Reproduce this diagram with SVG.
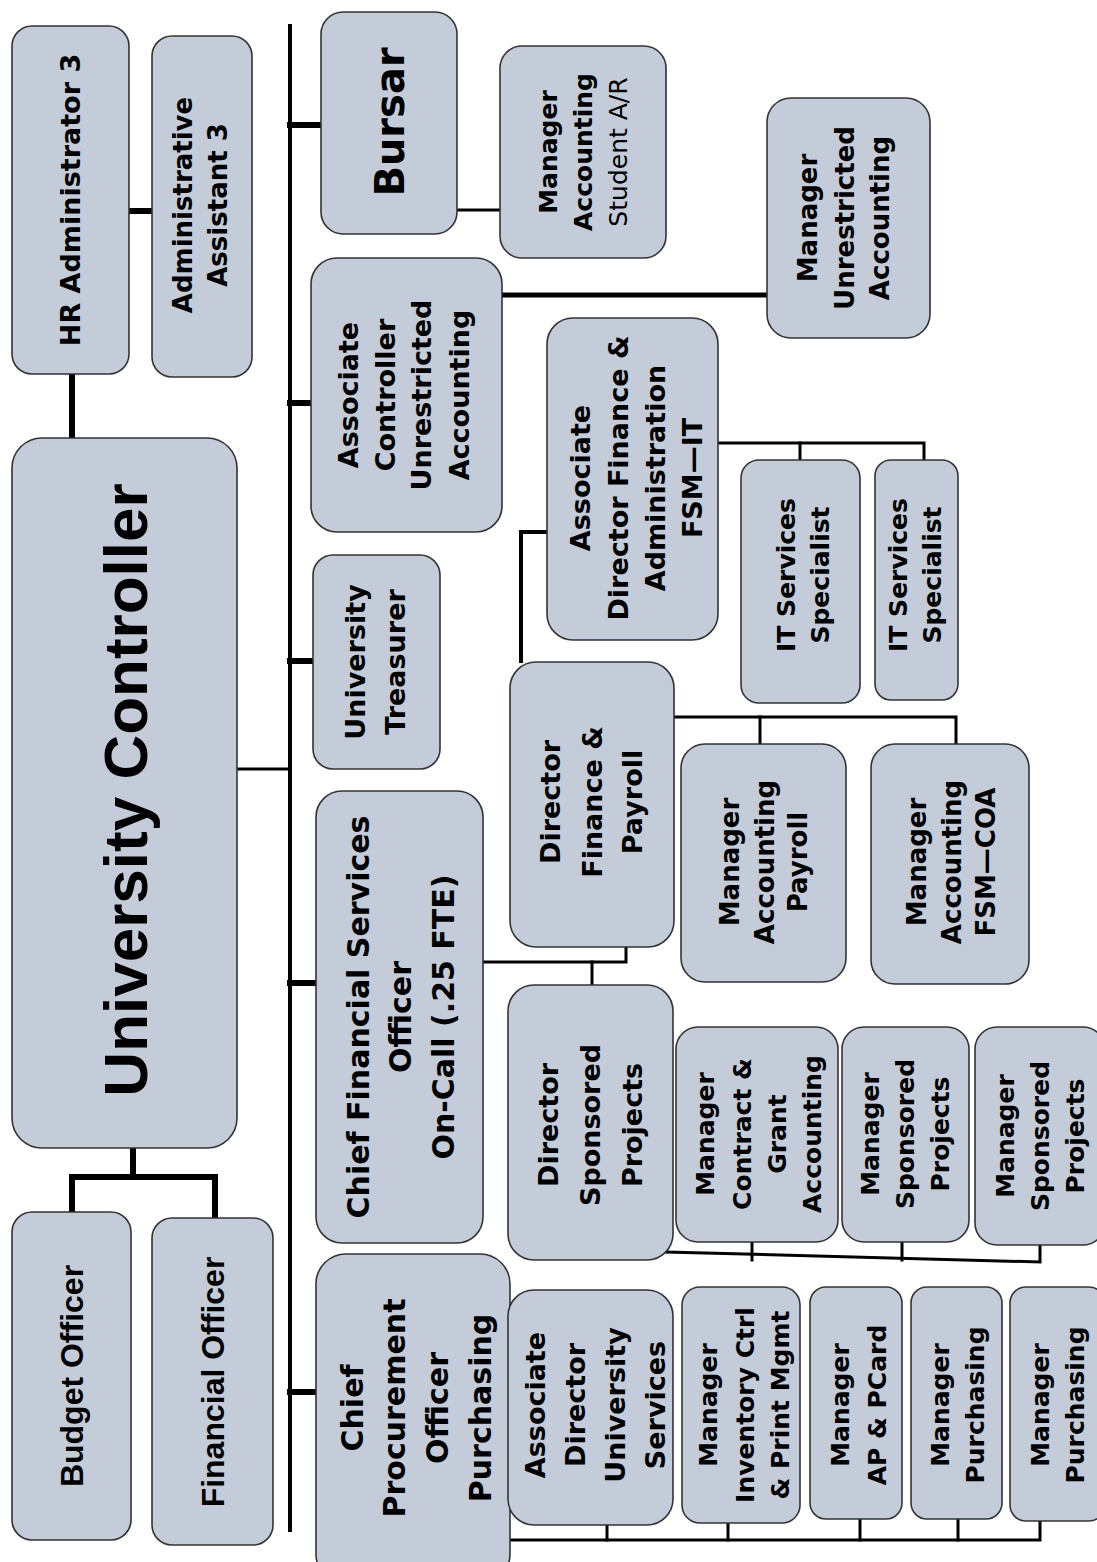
<svg xmlns="http://www.w3.org/2000/svg" width="1097" height="1562" viewBox="0 0 1097 1562">
<style>
.box{fill:#c3ccd8;stroke:#333;stroke-width:1.6}
.t{font-family:"DejaVu Sans",Verdana,sans-serif;font-weight:bold;fill:#000;text-anchor:middle}
.a{font-family:"Liberation Sans",Arial,sans-serif;font-weight:bold;fill:#000;text-anchor:middle}
.n{font-weight:normal}
.c{stroke:#000;fill:none;stroke-linecap:square}
</style>
<rect width="1097" height="1562" fill="#fff"/>
<g id="connectors">
<line class="c" x1="290" y1="26" x2="290" y2="1530" stroke-width="4"/>
<line class="c" x1="238" y1="769" x2="290" y2="769" stroke-width="3"/>
<line class="c" x1="290" y1="125" x2="320" y2="125" stroke-width="6"/>
<line class="c" x1="290" y1="403" x2="310" y2="403" stroke-width="6"/>
<line class="c" x1="290" y1="661" x2="312" y2="661" stroke-width="6"/>
<line class="c" x1="290" y1="983" x2="315" y2="983" stroke-width="6"/>
<line class="c" x1="290" y1="1392" x2="315" y2="1392" stroke-width="6"/>
<line class="c" x1="72" y1="375" x2="72" y2="437" stroke-width="6"/>
<line class="c" x1="130" y1="211" x2="151" y2="211" stroke-width="6"/>
<polyline class="c" points="133,1149 133,1177 72,1177 72,1211" stroke-width="6"/>
<polyline class="c" points="133,1177 215,1177 215,1217" stroke-width="6"/>
<line class="c" x1="458" y1="210" x2="499" y2="210" stroke-width="3"/>
<line class="c" x1="503" y1="295" x2="766" y2="295" stroke-width="5"/>
<polyline class="c" points="546,532 521,532 521,661" stroke-width="4"/>
<polyline class="c" points="719,443 924,443 924,459" stroke-width="3"/>
<line class="c" x1="800" y1="443" x2="800" y2="459" stroke-width="3"/>
<polyline class="c" points="675,717 956,717 956,743" stroke-width="3"/>
<line class="c" x1="760" y1="717" x2="760" y2="743" stroke-width="3"/>
<polyline class="c" points="484,962 626,962 626,948" stroke-width="3"/>
<line class="c" x1="592" y1="962" x2="592" y2="984" stroke-width="3"/>
<polyline class="c" points="666,1252 1040,1262 1040,1246" stroke-width="3"/>
<line class="c" x1="752" y1="1243" x2="752" y2="1260" stroke-width="3"/>
<line class="c" x1="902" y1="1243" x2="902" y2="1260" stroke-width="3"/>
<polyline class="c" points="511,1540 1040,1540 1040,1522" stroke-width="3"/>
<line class="c" x1="607" y1="1526" x2="607" y2="1540" stroke-width="3"/>
<line class="c" x1="728" y1="1524" x2="728" y2="1540" stroke-width="3"/>
<line class="c" x1="860" y1="1520" x2="860" y2="1540" stroke-width="3"/>
<line class="c" x1="958" y1="1520" x2="958" y2="1540" stroke-width="3"/>
</g>
<g id="hr-admin"><rect class="box" x="12" y="26" width="117" height="348" rx="20"/>
<text class="t" font-size="27" transform="translate(0,200) rotate(-90)"><tspan x="0" y="80">HR Administrator 3</tspan></text></g>
<g id="admin-asst"><rect class="box" x="152" y="36" width="100" height="341" rx="20"/>
<text class="t" font-size="26" transform="translate(0,205) rotate(-90)"><tspan x="0" y="192">Administrative</tspan><tspan x="0" y="227">Assistant 3</tspan></text></g>
<g id="bursar"><rect class="box" x="321" y="12" width="136" height="222" rx="22"/>
<text class="t" font-size="40" transform="translate(0,122) rotate(-90)"><tspan x="0" y="404">Bursar</tspan></text></g>
<g id="mgr-student-ar"><rect class="box" x="500" y="46" width="166" height="212" rx="22"/>
<text class="t" font-size="25" transform="translate(0,152) rotate(-90)"><tspan x="0" y="557">Manager</tspan><tspan x="0" y="592">Accounting</tspan><tspan x="0" y="627" class="n">Student A/R</tspan></text></g>
<g id="assoc-controller"><rect class="box" x="311" y="258" width="191" height="274" rx="26"/>
<text class="t" font-size="27" transform="translate(0,395) rotate(-90)"><tspan x="0" y="358">Associate</tspan><tspan x="0" y="395">Controller</tspan><tspan x="0" y="431">Unrestricted</tspan><tspan x="0" y="469">Accounting</tspan></text></g>
<g id="mgr-unrestricted"><rect class="box" x="767" y="98" width="163" height="240" rx="24"/>
<text class="t" font-size="26" transform="translate(0,218) rotate(-90)"><tspan x="0" y="817">Manager</tspan><tspan x="0" y="854">Unrestricted</tspan><tspan x="0" y="889">Accounting</tspan></text></g>
<g id="assoc-dir-fsm-it"><rect class="box" x="547" y="318" width="171" height="322" rx="26"/>
<text class="t" font-size="27" transform="translate(0,478) rotate(-90)"><tspan x="0" y="590">Associate</tspan><tspan x="0" y="628">Director Finance &amp;</tspan><tspan x="0" y="665">Administration</tspan><tspan x="0" y="702">FSM—IT</tspan></text></g>
<g id="it-spec-1"><rect class="box" x="741" y="460" width="119" height="243" rx="18"/>
<text class="t" font-size="25" transform="translate(0,575) rotate(-90)"><tspan x="0" y="795">IT Services</tspan><tspan x="0" y="829">Specialist</tspan></text></g>
<g id="it-spec-2"><rect class="box" x="875" y="460" width="83" height="240" rx="16"/>
<text class="t" font-size="25" transform="translate(0,575) rotate(-90)"><tspan x="0" y="907">IT Services</tspan><tspan x="0" y="941">Specialist</tspan></text></g>
<g id="univ-treasurer"><rect class="box" x="313" y="555" width="127" height="214" rx="20"/>
<text class="t" font-size="27" transform="translate(0,662) rotate(-90)"><tspan x="0" y="365">University</tspan><tspan x="0" y="405">Treasurer</tspan></text></g>
<g id="univ-controller"><rect class="box" x="12" y="438" width="225" height="710" rx="30"/>
<text class="a" font-size="62" transform="translate(0,790) rotate(-90)"><tspan x="0" y="147">University Controller</tspan></text></g>
<g id="dir-finance-payroll"><rect class="box" x="510" y="662" width="164" height="285" rx="26"/>
<text class="t" font-size="27" transform="translate(0,802) rotate(-90)"><tspan x="0" y="560">Director</tspan><tspan x="0" y="602">Finance &amp;</tspan><tspan x="0" y="642">Payroll</tspan></text></g>
<g id="mgr-acct-payroll"><rect class="box" x="681" y="744" width="165" height="238" rx="24"/>
<text class="t" font-size="26" transform="translate(0,862) rotate(-90)"><tspan x="0" y="739">Manager</tspan><tspan x="0" y="774">Accounting</tspan><tspan x="0" y="807">Payroll</tspan></text></g>
<g id="mgr-acct-fsm-coa"><rect class="box" x="871" y="744" width="158" height="240" rx="24"/>
<text class="t" font-size="26" transform="translate(0,862) rotate(-90)"><tspan x="0" y="926">Manager</tspan><tspan x="0" y="961">Accounting</tspan><tspan x="0" y="995">FSM—COA</tspan></text></g>
<g id="cfso"><rect class="box" x="316" y="791" width="167" height="452" rx="26"/>
<text class="t" font-size="30" transform="translate(0,1017) rotate(-90)"><tspan x="0" y="369">Chief Financial Services</tspan><tspan x="0" y="411">Officer</tspan><tspan x="0" y="454">On-Call (.25 FTE)</tspan></text></g>
<g id="dir-sponsored"><rect class="box" x="508" y="985" width="165" height="275" rx="26"/>
<text class="t" font-size="27" transform="translate(0,1125) rotate(-90)"><tspan x="0" y="558">Director</tspan><tspan x="0" y="600">Sponsored</tspan><tspan x="0" y="642">Projects</tspan></text></g>
<g id="mgr-contract-grant"><rect class="box" x="676" y="1027" width="162" height="215" rx="22"/>
<text class="t" font-size="25" transform="translate(0,1134) rotate(-90)"><tspan x="0" y="714">Manager</tspan><tspan x="0" y="751">Contract &amp;</tspan><tspan x="0" y="786">Grant</tspan><tspan x="0" y="821">Accounting</tspan></text></g>
<g id="mgr-sponsored-1"><rect class="box" x="842" y="1027" width="127" height="215" rx="22"/>
<text class="t" font-size="25" transform="translate(0,1134) rotate(-90)"><tspan x="0" y="879">Manager</tspan><tspan x="0" y="914">Sponsored</tspan><tspan x="0" y="949">Projects</tspan></text></g>
<g id="mgr-sponsored-2"><rect class="box" x="975" y="1027" width="130" height="218" rx="22"/>
<text class="t" font-size="25" transform="translate(0,1136) rotate(-90)"><tspan x="0" y="1014">Manager</tspan><tspan x="0" y="1049">Sponsored</tspan><tspan x="0" y="1084">Projects</tspan></text></g>
<g id="budget-officer"><rect class="box" x="12" y="1212" width="119" height="328" rx="20"/>
<text class="a" font-size="32" transform="translate(0,1376) rotate(-90)"><tspan x="0" y="83">Budget Officer</tspan></text></g>
<g id="financial-officer"><rect class="box" x="152" y="1218" width="121" height="327" rx="20"/>
<text class="a" font-size="32" transform="translate(0,1382) rotate(-90)"><tspan x="0" y="224">Financial Officer</tspan></text></g>
<g id="cpo"><rect class="box" x="316" y="1254" width="194" height="330" rx="30"/>
<text class="t" font-size="30" transform="translate(0,1408) rotate(-90)"><tspan x="0" y="363">Chief</tspan><tspan x="0" y="405">Procurement</tspan><tspan x="0" y="448">Officer</tspan><tspan x="0" y="491">Purchasing</tspan></text></g>
<g id="assoc-dir-univ-services"><rect class="box" x="508" y="1290" width="165" height="235" rx="26"/>
<text class="t" font-size="27" transform="translate(0,1405) rotate(-90)"><tspan x="0" y="545">Associate</tspan><tspan x="0" y="585">Director</tspan><tspan x="0" y="625">University</tspan><tspan x="0" y="665">Services</tspan></text></g>
<g id="mgr-inventory"><rect class="box" x="682" y="1287" width="118" height="236" rx="18"/>
<text class="t" font-size="25" transform="translate(0,1405) rotate(-90)"><tspan x="0" y="717">Manager</tspan><tspan x="0" y="754">Inventory Ctrl</tspan><tspan x="0" y="789">&amp; Print Mgmt</tspan></text></g>
<g id="mgr-ap-pcard"><rect class="box" x="810" y="1287" width="92" height="232" rx="16"/>
<text class="t" font-size="25" transform="translate(0,1405) rotate(-90)"><tspan x="0" y="849">Manager</tspan><tspan x="0" y="886">AP &amp; PCard</tspan></text></g>
<g id="mgr-purchasing-1"><rect class="box" x="911" y="1287" width="91" height="232" rx="16"/>
<text class="t" font-size="25" transform="translate(0,1405) rotate(-90)"><tspan x="0" y="949">Manager</tspan><tspan x="0" y="984">Purchasing</tspan></text></g>
<g id="mgr-purchasing-2"><rect class="box" x="1010" y="1287" width="95" height="234" rx="16"/>
<text class="t" font-size="25" transform="translate(0,1405) rotate(-90)"><tspan x="0" y="1049">Manager</tspan><tspan x="0" y="1084">Purchasing</tspan></text></g>
</svg>
